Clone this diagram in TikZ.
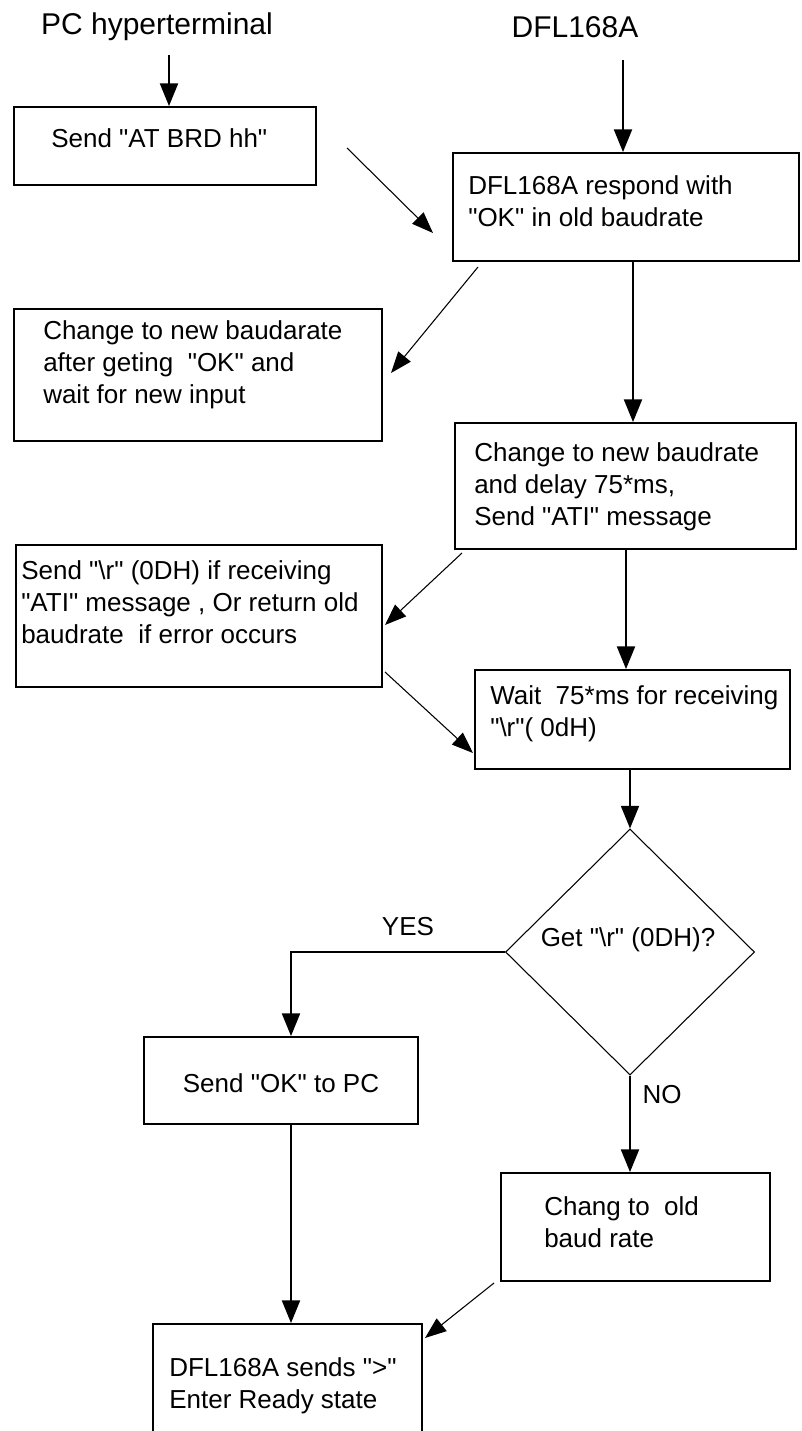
\documentclass[tikz,border=0pt]{standalone}
\usepackage{fontspec}
\setmainfont{Liberation Sans}[Ligatures=TeXOff]
\usetikzlibrary{arrows.meta,shapes.geometric,fit}
\begin{document}
\begin{tikzpicture}[x=0.75pt,y=-0.75pt,
  box/.style={draw,line width=1.4pt,inner sep=0pt,rectangle},
  txt/.style={anchor=west,inner sep=0pt,align=left,font=\fontsize{19.5}{24}\selectfont},
  ttl/.style={inner sep=0pt,font=\fontsize{22.5}{27}\selectfont},
  varr/.style={line width=1.5pt,-{Triangle[length=17pt,width=13.5pt]}},
  darr/.style={line width=0.8pt,-{Triangle[length=16pt,width=12pt]}},
]
\useasboundingbox (0,0) rectangle (801,1431);
\clip (0,0) rectangle (801,1431);
\fill[white] (0,0) rectangle (801,1431);

% titles
\node[ttl] (T1) at (157,27) {PC hyperterminal};
\node[ttl] (T2) at (575,27) {DFL168A};

% boxes
\node[box,fit={(14,107)(316,185)}] (B1) {};
\node[txt] (L1) at (51,138) {Send "AT BRD hh"};
\node[box,fit={(453,153)(799,261)}] (B2) {};
\node[txt] (L2) at (468,201) {DFL168A respond with\\"OK" in old baudrate};
\node[box,fit={(14,309)(382,441)}] (B3) {};
\node[txt] (L3) at (43,365) {Change to new baudarate\\after geting\ \ "OK" and\\wait for new input};
\node[box,fit={(455,423)(796,549)}] (B4) {};
\node[txt] (L4) at (474,487) {Change to new baudrate\\and delay 75*ms,\\Send "ATI" message};
\node[box,fit={(16,545)(382,687)}] (B5) {};
\node[txt] (L5) at (21,602) {Send "\textbackslash r" (0DH) if receiving\\"ATI" message , Or return old\\baudrate\ \ if error occurs};
\node[box,fit={(475,670)(790,769)}] (B6) {};
\node[txt] (L6) at (490,714) {Wait\ \ 75*ms for receiving\\"\textbackslash r"( 0dH)};
\node[diamond,draw,line width=0.8pt,inner sep=0pt,minimum width=186.75pt,minimum height=184.5pt] (D) at (630,952) {};
\node[txt,anchor=center] (LD) at (628,940) {Get "\textbackslash r" (0DH)?};
\node[box,fit={(144,1037)(418,1124)}] (B7) {};
\node[txt,anchor=center] (L7) at (281,1083) {Send "OK" to PC};
\node[box,fit={(153,1324)(422,1470)}] (B8) {};
\node[txt] (L8) at (169,1386) {DFL168A sends "{>}"\\Enter Ready state};
\node[box,fit={(501,1173)(770,1281)}] (B9) {};
\node[txt] (L9) at (544,1222) {Chang to\ \ old\\baud rate};
\node[txt,anchor=center] (YES) at (408,927) {YES};
\node[txt,anchor=center] (NO) at (662,1095) {NO};

% connectors
\coordinate (s1) at (169,55);
\draw[varr] (s1) -- (s1 |- B1.north);
\coordinate (s2) at (623,60);
\draw[varr] (s2) -- (s2 |- B2.north);
\coordinate (p1) at (347,148); \coordinate (q1) at (433,233);
\draw[darr] (p1) -- (q1);
\coordinate (p2) at (478,267); \coordinate (q2) at (391,373);
\draw[darr] (p2) -- (q2);
\coordinate (c2) at (633,0);
\draw[varr] (c2 |- B2.south) -- (c2 |- B4.north);
\coordinate (c4) at (626,0);
\draw[varr] (c4 |- B4.south) -- (c4 |- B6.north);
\coordinate (p3) at (462,553); \coordinate (q3) at (385,625);
\draw[darr] (p3) -- (q3);
\coordinate (p4) at (385,672); \coordinate (q4) at (473,753);
\draw[darr] (p4) -- (q4);
\draw[varr] (D.north |- B6.south) -- (D.north);
\coordinate (c7) at (291,0);
\draw[varr] (D.west) -| (c7 |- B7.north);
\draw[varr] (c7 |- B7.south) -- (c7 |- B8.north);
\draw[varr] (D.south) -- (D.south |- B9.north);
\coordinate (p5) at (494,1283); \coordinate (q5) at (425,1338);
\draw[darr] (p5) -- (q5);
\end{tikzpicture}
\end{document}
